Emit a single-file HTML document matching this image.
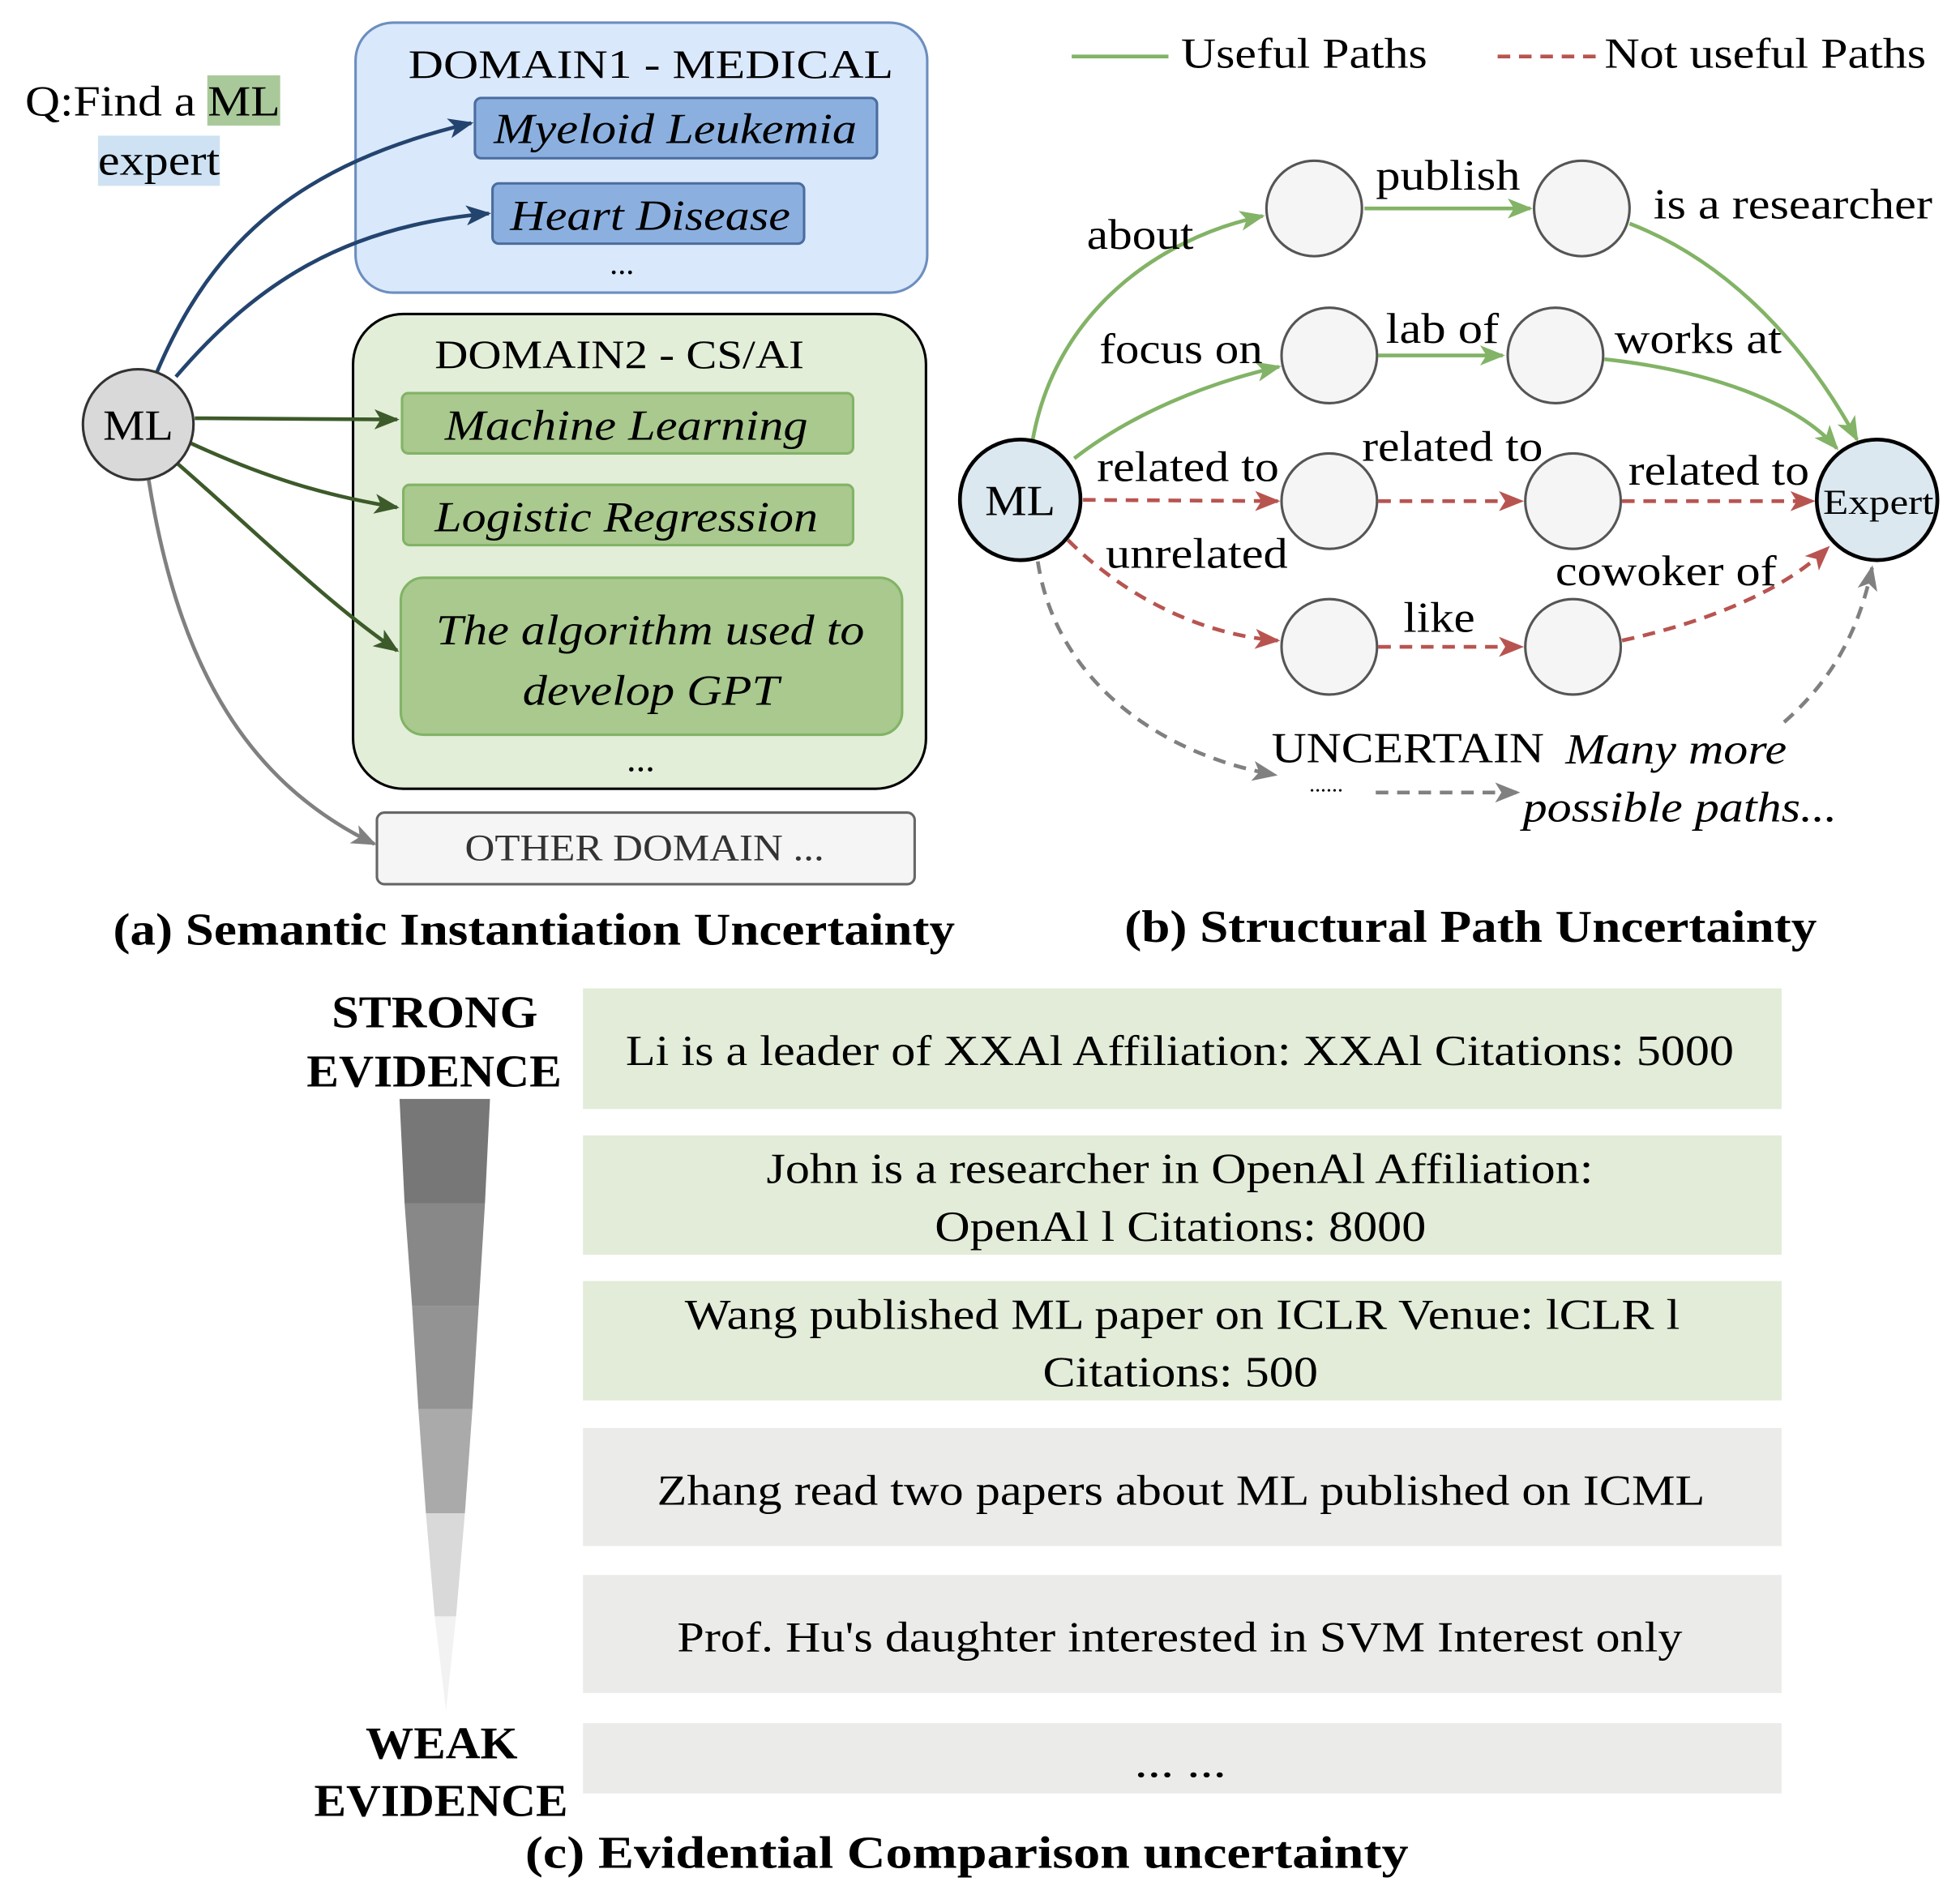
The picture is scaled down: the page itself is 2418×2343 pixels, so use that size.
<!DOCTYPE html>
<html><head><meta charset="utf-8"><style>
html,body{margin:0;padding:0;background:#fff;}
svg{display:block;}
text{font-family:"Liberation Serif","Times New Roman",serif;fill:#000;}
</style></head><body>
<svg width="2418" height="2343" viewBox="0 0 1560 1512" preserveAspectRatio="none" xmlns="http://www.w3.org/2000/svg">
<defs>
<marker id="ag" markerWidth="20" markerHeight="16" refX="18" refY="8" orient="auto" markerUnits="userSpaceOnUse"><path d="M0,0 L20,8 L0,16 L5,8 z" fill="#3d5a2a"/></marker>
<marker id="abl" markerWidth="20" markerHeight="16" refX="18" refY="8" orient="auto" markerUnits="userSpaceOnUse"><path d="M0,0 L20,8 L0,16 L5,8 z" fill="#23446e"/></marker>
<marker id="agr" markerWidth="20" markerHeight="16" refX="18" refY="8" orient="auto" markerUnits="userSpaceOnUse"><path d="M0,0 L20,8 L0,16 L5,8 z" fill="#808080"/></marker>
<marker id="alg" markerWidth="20" markerHeight="16" refX="18" refY="8" orient="auto" markerUnits="userSpaceOnUse"><path d="M0,0 L20,8 L0,16 L5,8 z" fill="#82b366"/></marker>
<marker id="ar" markerWidth="20" markerHeight="16" refX="18" refY="8" orient="auto" markerUnits="userSpaceOnUse"><path d="M0,0 L20,8 L0,16 L5,8 z" fill="#b85450"/></marker>
</defs>

<!-- (a) -->
<rect x="165" y="60" width="58" height="40" fill="#a9c99a"/>
<rect x="78" y="108" width="97" height="40" fill="#cfe2f3"/>
<text x="20" y="92" font-size="34" textLength="203" lengthAdjust="spacingAndGlyphs">Q:Find a ML</text>
<text x="78" y="139" font-size="34" textLength="97" lengthAdjust="spacingAndGlyphs">expert</text>

<rect x="283" y="18" width="455" height="215" rx="30" fill="#dae8fc" stroke="#6c8ebf" stroke-width="2"/>
<text x="325" y="62" font-size="32" textLength="386" lengthAdjust="spacingAndGlyphs">DOMAIN1 - MEDICAL</text>
<rect x="378" y="78" width="320" height="48" rx="5" fill="#8bb0e0" stroke="#4a6d9e" stroke-width="2"/>
<text x="393" y="114" font-size="34" font-style="italic" textLength="289" lengthAdjust="spacingAndGlyphs">Myeloid Leukemia</text>
<rect x="392" y="146" width="248" height="48" rx="5" fill="#8bb0e0" stroke="#4a6d9e" stroke-width="2"/>
<text x="406" y="183" font-size="34" font-style="italic" textLength="223" lengthAdjust="spacingAndGlyphs">Heart Disease</text>
<text x="495" y="218" font-size="26" text-anchor="middle">...</text>

<rect x="281" y="250" width="456" height="378" rx="40" fill="#e2eed8" stroke="#000" stroke-width="2"/>
<text x="346" y="293" font-size="32" textLength="294" lengthAdjust="spacingAndGlyphs">DOMAIN2 - CS/AI</text>
<rect x="320" y="313" width="359" height="48" rx="5" fill="#a9c98f" stroke="#82b366" stroke-width="2"/>
<text x="354" y="350" font-size="34" font-style="italic" textLength="289" lengthAdjust="spacingAndGlyphs">Machine Learning</text>
<rect x="321" y="386" width="358" height="48" rx="5" fill="#a9c98f" stroke="#82b366" stroke-width="2"/>
<text x="346" y="423" font-size="34" font-style="italic" textLength="305" lengthAdjust="spacingAndGlyphs">Logistic Regression</text>
<rect x="319" y="460" width="399" height="125" rx="18" fill="#a9c98f" stroke="#82b366" stroke-width="2"/>
<text x="347" y="513" font-size="34" font-style="italic" textLength="341" lengthAdjust="spacingAndGlyphs">The algorithm used to</text>
<text x="416" y="561" font-size="34" font-style="italic" textLength="204" lengthAdjust="spacingAndGlyphs">develop GPT</text>
<text x="510" y="614" font-size="30" text-anchor="middle">...</text>

<rect x="300" y="647" width="428" height="57" rx="6" fill="#f5f5f5" stroke="#666" stroke-width="2"/>
<text x="370" y="685" font-size="30" style="fill:#333" textLength="286" lengthAdjust="spacingAndGlyphs">OTHER DOMAIN ...</text>

<path d="M125,296 C170,190 240,130 375,98" fill="none" stroke="#23446e" stroke-width="3" marker-end="url(#abl)"/>
<path d="M140,300 C200,230 270,180 389,170" fill="none" stroke="#23446e" stroke-width="3" marker-end="url(#abl)"/>
<path d="M155,333 L316,334" fill="none" stroke="#3d5a2a" stroke-width="3" marker-end="url(#ag)"/>
<path d="M150,352 C210,380 260,395 316,404" fill="none" stroke="#3d5a2a" stroke-width="3" marker-end="url(#ag)"/>
<path d="M140,368 C200,420 260,480 316,518" fill="none" stroke="#3d5a2a" stroke-width="3" marker-end="url(#ag)"/>
<path d="M118,380 C140,520 190,620 298,672" fill="none" stroke="#808080" stroke-width="3" marker-end="url(#agr)"/>
<circle cx="110" cy="338" r="44" fill="#d9d9d9" stroke="#333" stroke-width="2"/>
<text x="82" y="350" font-size="34" textLength="56" lengthAdjust="spacingAndGlyphs">ML</text>

<text x="90" y="752" font-size="36" font-weight="bold" textLength="670" lengthAdjust="spacingAndGlyphs">(a) Semantic Instantiation Uncertainty</text>

<!-- (b) -->
<line x1="853" y1="45" x2="930" y2="45" stroke="#82b366" stroke-width="3"/>
<text x="940" y="54" font-size="34" textLength="196" lengthAdjust="spacingAndGlyphs">Useful Paths</text>
<line x1="1192" y1="45" x2="1270" y2="45" stroke="#b85450" stroke-width="3" stroke-dasharray="10,7"/>
<text x="1277" y="54" font-size="34" textLength="256" lengthAdjust="spacingAndGlyphs">Not useful Paths</text>

<g fill="none" stroke-width="3">
<path d="M822,350 C840,250 920,190 1005,172" stroke="#82b366" marker-end="url(#alg)"/>
<path d="M1086,166 L1218,166" stroke="#82b366" marker-end="url(#alg)"/>
<path d="M1297,178 C1380,210 1440,280 1478,350" stroke="#82b366" marker-end="url(#alg)"/>
<path d="M855,365 C900,330 960,305 1018,292" stroke="#82b366" marker-end="url(#alg)"/>
<path d="M1097,283 L1196,283" stroke="#82b366" marker-end="url(#alg)"/>
<path d="M1277,286 C1360,295 1430,320 1462,357" stroke="#82b366" marker-end="url(#alg)"/>
<g stroke-dasharray="10,7">
<path d="M862,398 L1017,399" stroke="#b85450" marker-end="url(#ar)"/>
<path d="M1097,399 L1211,399" stroke="#b85450" marker-end="url(#ar)"/>
<path d="M1291,399 L1443,399" stroke="#b85450" marker-end="url(#ar)"/>
<path d="M850,430 C890,470 950,505 1017,510" stroke="#b85450" marker-end="url(#ar)"/>
<path d="M1097,515 L1211,515" stroke="#b85450" marker-end="url(#ar)"/>
<path d="M1291,510 C1360,495 1420,470 1455,436" stroke="#b85450" marker-end="url(#ar)"/>
<path d="M826,447 C840,540 920,600 1015,617" stroke="#808080" marker-end="url(#agr)"/>
<path d="M1095,631 L1208,631" stroke="#808080" marker-end="url(#agr)"/>
<path d="M1420,575 C1460,540 1480,500 1490,452" stroke="#808080" marker-end="url(#agr)"/>
</g>
</g>

<g fill="#f5f5f5" stroke="#555" stroke-width="2">
<circle cx="1046" cy="166" r="38"/><circle cx="1259" cy="166" r="38"/>
<circle cx="1058" cy="283" r="38"/><circle cx="1238" cy="283" r="38"/>
<circle cx="1058" cy="399" r="38"/><circle cx="1252" cy="399" r="38"/>
<circle cx="1058" cy="515" r="38"/><circle cx="1252" cy="515" r="38"/>
</g>
<circle cx="812" cy="398" r="48" fill="#dbe8ef" stroke="#000" stroke-width="3"/>
<text x="784" y="410" font-size="34" textLength="56" lengthAdjust="spacingAndGlyphs">ML</text>
<circle cx="1494" cy="398" r="48" fill="#dbe8ef" stroke="#000" stroke-width="3"/>
<text x="1451" y="409" font-size="28" textLength="88" lengthAdjust="spacingAndGlyphs">Expert</text>

<g font-size="34">
<text x="865" y="198" textLength="85" lengthAdjust="spacingAndGlyphs">about</text>
<text x="1095" y="151" textLength="115" lengthAdjust="spacingAndGlyphs">publish</text>
<text x="1316" y="174" textLength="222" lengthAdjust="spacingAndGlyphs">is a researcher</text>
<text x="875" y="289" textLength="130" lengthAdjust="spacingAndGlyphs">focus on</text>
<text x="1103" y="273" textLength="90" lengthAdjust="spacingAndGlyphs">lab of</text>
<text x="1285" y="281" textLength="133" lengthAdjust="spacingAndGlyphs">works at</text>
<text x="873" y="383" textLength="145" lengthAdjust="spacingAndGlyphs">related to</text>
<text x="1084" y="367" textLength="144" lengthAdjust="spacingAndGlyphs">related to</text>
<text x="1296" y="386" textLength="144" lengthAdjust="spacingAndGlyphs">related to</text>
<text x="880" y="452" textLength="145" lengthAdjust="spacingAndGlyphs">unrelated</text>
<text x="1117" y="503" textLength="57" lengthAdjust="spacingAndGlyphs">like</text>
<text x="1238" y="466" textLength="176" lengthAdjust="spacingAndGlyphs">cowoker of</text>
<text x="1012" y="607" textLength="217" lengthAdjust="spacingAndGlyphs">UNCERTAIN</text>
<text x="1042" y="630" font-size="18">......</text>
<text x="1246" y="608" font-style="italic" textLength="176" lengthAdjust="spacingAndGlyphs">Many more</text>
<text x="1212" y="654" font-style="italic" textLength="250" lengthAdjust="spacingAndGlyphs">possible paths...</text>
</g>
<text x="895" y="750" font-size="36" font-weight="bold" textLength="551" lengthAdjust="spacingAndGlyphs">(b) Structural Path Uncertainty</text>

<!-- (c) -->
<g font-size="36" font-weight="bold">
<text x="264" y="818" textLength="164" lengthAdjust="spacingAndGlyphs">STRONG</text>
<text x="244" y="865" textLength="203" lengthAdjust="spacingAndGlyphs">EVIDENCE</text>
<text x="291" y="1400" textLength="121" lengthAdjust="spacingAndGlyphs">WEAK</text>
<text x="250" y="1446" textLength="202" lengthAdjust="spacingAndGlyphs">EVIDENCE</text>
</g>
<polygon points="318,875 390,875 386,958 322,958" fill="#777"/>
<polygon points="322,958 386,958 381,1040 328,1040" fill="#888"/>
<polygon points="328,1040 381,1040 376,1122 333,1122" fill="#939393"/>
<polygon points="333,1122 376,1122 370,1205 339,1205" fill="#aaa"/>
<polygon points="339,1205 370,1205 363,1287 346,1287" fill="#d9d9d9"/>
<polygon points="346,1287 363,1287 355,1362" fill="#f2f2f2"/>

<rect x="464" y="787" width="954" height="96" fill="#e2ecd8"/>
<rect x="464" y="904" width="954" height="95" fill="#e2ecd8"/>
<rect x="464" y="1020" width="954" height="95" fill="#e2ecd8"/>
<rect x="464" y="1137" width="954" height="94" fill="#ebecea"/>
<rect x="464" y="1254" width="954" height="94" fill="#ebecea"/>
<rect x="464" y="1372" width="954" height="56" fill="#ebecea"/>
<g font-size="34">
<text x="498" y="848" textLength="882" lengthAdjust="spacingAndGlyphs">Li is a leader of XXAl Affiliation: XXAl Citations: 5000</text>
<text x="610" y="942" textLength="658" lengthAdjust="spacingAndGlyphs">John is a researcher in OpenAl Affiliation:</text>
<text x="744" y="988" textLength="391" lengthAdjust="spacingAndGlyphs">OpenAl l Citations: 8000</text>
<text x="545" y="1058" textLength="792" lengthAdjust="spacingAndGlyphs">Wang published ML paper on ICLR Venue: lCLR l</text>
<text x="830" y="1104" textLength="219" lengthAdjust="spacingAndGlyphs">Citations: 500</text>
<text x="523" y="1198" textLength="834" lengthAdjust="spacingAndGlyphs">Zhang read two papers about ML published on ICML</text>
<text x="539" y="1315" textLength="800" lengthAdjust="spacingAndGlyphs">Prof. Hu's daughter interested in SVM Interest only</text>
<text x="903" y="1415" textLength="73" lengthAdjust="spacingAndGlyphs">... ...</text>
</g>
<text x="418" y="1487" font-size="36" font-weight="bold" textLength="703" lengthAdjust="spacingAndGlyphs">(c) Evidential Comparison uncertainty</text>
</svg>
</body></html>
